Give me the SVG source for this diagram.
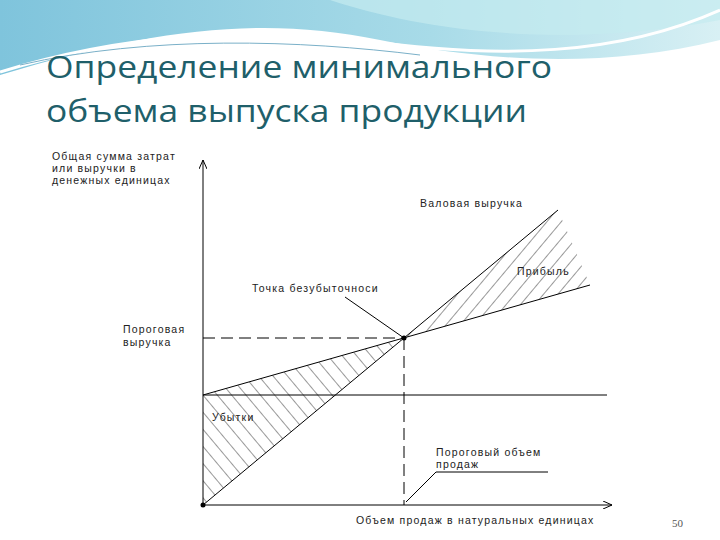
<svg xmlns="http://www.w3.org/2000/svg" width="720" height="540" viewBox="0 0 720 540">
<defs>
<linearGradient id="sky" x1="0" y1="0" x2="1" y2="0"><stop offset="0" stop-color="#7fc4dc"/><stop offset="0.6" stop-color="#a8dbe8"/><stop offset="1" stop-color="#d8f0f4"/></linearGradient>
<pattern id="hl" width="11" height="11" patternUnits="userSpaceOnUse" patternTransform="rotate(-40)"><line x1="0" y1="0" x2="0" y2="11" stroke="#000" stroke-width="0.8"/></pattern>
<pattern id="hr" width="11" height="11" patternUnits="userSpaceOnUse" patternTransform="rotate(40)"><line x1="0" y1="0" x2="0" y2="11" stroke="#000" stroke-width="0.8"/></pattern>
<marker id="ar" markerWidth="10" markerHeight="8" refX="9" refY="4" orient="auto" markerUnits="userSpaceOnUse"><path d="M0,0 L9,4 L0,8" fill="none" stroke="#000"/></marker>
<style>
.t{font-family:"Liberation Sans",Arial,sans-serif;font-size:10.5px;letter-spacing:1.2px;fill:#222}
.ln{stroke:#000;stroke-width:1;fill:none}
.ds{stroke:#000;stroke-width:1;stroke-dasharray:12,6;fill:none}
</style>
</defs>
<rect width="720" height="540" fill="#fff"/>
<path d="M0,0 H720 V40 C600,70 480,60 380,40 C260,15 150,30 0,75 Z" fill="url(#sky)"/>
<path d="M330,0 C420,30 560,50 720,20 V0 Z" fill="#c5ebf0" opacity="0.7"/>
<path d="M0,72 C120,35 250,25 360,40 C500,60 620,55 720,10" fill="none" stroke="#fff" stroke-width="3"/>
<path d="M20,65 C150,35 300,40 420,55" fill="none" stroke="#7ab0c8" stroke-width="1"/>
<g id="title" font-family="Open Sans,'Noto Sans',sans-serif" font-size="31" fill="#1f5f6a">
<text x="46" y="78" textLength="506" lengthAdjust="spacingAndGlyphs">Определение минимального</text>
<text x="46" y="122" textLength="481" lengthAdjust="spacingAndGlyphs">объема выпуска продукции</text>
</g>
<g id="areas">
<polygon points="203,395 203,505 404,338" fill="url(#hl)"/>
<polygon points="404,338 558,210 590,285" fill="url(#hr)"/>
</g>
<g id="connectors">
<line class="ln" x1="203" y1="505" x2="203" y2="160" marker-end="url(#ar)"/>
<line class="ln" x1="203" y1="505" x2="612" y2="505" marker-end="url(#ar)"/>
<line class="ln" x1="203" y1="505" x2="558" y2="210"/>
<line class="ln" x1="203" y1="395" x2="590" y2="285"/>
<line class="ln" x1="203" y1="395" x2="607" y2="395"/>
<line class="ds" x1="203" y1="338" x2="404" y2="338"/>
<line class="ds" x1="404" y1="338" x2="404" y2="505"/>
<line class="ln" x1="345" y1="297" x2="404" y2="338"/>
<line class="ln" x1="548" y1="472" x2="436" y2="472"/>
<line class="ln" x1="436" y1="472" x2="406" y2="502"/>
<circle cx="404" cy="338" r="2.5" fill="#000"/>
<circle cx="203" cy="505" r="2.5" fill="#000"/>
</g>
<g id="labels">
<text class="t" x="52" y="160">Общая сумма затрат</text>
<text class="t" x="52" y="172">или выручки в</text>
<text class="t" x="52" y="184">денежных единицах</text>
<text class="t" x="420" y="207">Валовая выручка</text>
<text class="t" x="517" y="275">Прибыль</text>
<text class="t" x="252" y="292">Точка безубыточноси</text>
<text class="t" x="123" y="333">Пороговая</text>
<text class="t" x="123" y="346">выручка</text>
<text class="t" x="212" y="421">Убытки</text>
<text class="t" x="436" y="456">Пороговый объем</text>
<text class="t" x="436" y="468">продаж</text>
<text class="t" x="356" y="524">Объем продаж в натуральных единицах</text>
<text x="672" y="527" font-family="'Liberation Serif',serif" font-size="11" fill="#555">50</text>
</g>
</svg>
